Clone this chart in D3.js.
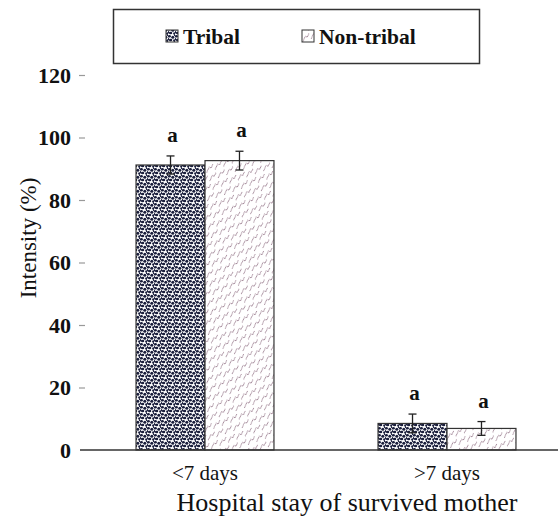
<!DOCTYPE html>
<html>
<head>
<meta charset="utf-8">
<script src="https://cdn.jsdelivr.net/npm/d3@7"></script>
<style>
  body { margin: 0; background: #fff; }
  svg { display: block; }
  svg text { font-family: "Liberation Serif", "Times New Roman", serif; }
</style>
</head>
<body>
<div id="chart"></div>
<script>
// データ
var categories = ["<7 days", ">7 days"];
var groups = ["Tribal", "Non-tribal"];
var tribal_values = [91.2, 8.5];
var nontribal_values = [92.6, 6.9];
var tribal_errors = [2.9, 3.0];
var nontribal_errors = [3.0, 2.2];
var sig_letters = [["a", "a"], ["a", "a"]];
var y_ticks = [0, 20, 40, 60, 80, 100, 120];

var W = 558, H = 522;
var svg = d3.select("#chart").append("svg").attr("width", W).attr("height", H)
  .attr("font-family", "Liberation Serif");

// パターン
var defs = svg.append("defs");
var dots = defs.append("pattern").attr("id", "pat_tribal")
  .attr("patternUnits", "userSpaceOnUse").attr("width", 7).attr("height", 7);
dots.append("rect").attr("width", 7).attr("height", 7).attr("fill", "#fff");
[[1.3,1.3,1.6,1.3],[4.8,2.2,1.5,1.5],[2.6,5.0,1.7,1.3],[6.4,5.6,1.2,1.3],[0.2,4.2,1.0,1.2],[6.8,0.3,0.9,0.9]].forEach(function(e){
  dots.append("ellipse").attr("cx", e[0]).attr("cy", e[1]).attr("rx", e[2]).attr("ry", e[3]).attr("fill", "#1a1e3c");
});

var zig = defs.append("pattern").attr("id", "pat_non")
  .attr("patternUnits", "userSpaceOnUse").attr("width", 9).attr("height", 9)
  .attr("patternTransform", "rotate(-20)");
zig.append("rect").attr("width", 9).attr("height", 9).attr("fill", "#fff");
zig.append("path").attr("d", "M0,8 L4.5,3.5 L6,5 L9,2")
  .attr("fill", "none").attr("stroke", "#a68c9c").attr("stroke-width", 1);

var patFill = ["url(#pat_tribal)", "url(#pat_non)"];

// スケール
var x = d3.scaleBand().domain(categories).range([84, 568]).paddingInner(0.43).paddingOuter(0.215);
var xs = d3.scaleBand().domain(groups).range([0, x.bandwidth()]);
var y = d3.scaleLinear().domain([0, 120]).range([450, 75]);

var rows = categories.map(function(c, i){
  return [
    {cat: c, grp: groups[0], v: tribal_values[i], e: tribal_errors[i], lab: sig_letters[i][0]},
    {cat: c, grp: groups[1], v: nontribal_values[i], e: nontribal_errors[i], lab: sig_letters[i][1]}
  ];
});
var flat = [].concat.apply([], rows);

// y軸(線なし)
var yAxis = svg.append("g").attr("transform", "translate(78,0)")
  .call(d3.axisLeft(y).tickValues(y_ticks).tickSize(0).tickPadding(7));
yAxis.select(".domain").remove();
yAxis.attr("font-family", "Liberation Serif").attr("font-size", null);
yAxis.selectAll("text").attr("font-size", 22).attr("font-weight", "bold").attr("fill", "#111");
yAxis.selectAll(".tick").filter(function(d){return d>0;}).append("line")
  .attr("x1", 1).attr("x2", 7).attr("stroke", "#999").attr("stroke-width", 1.2);

// 棒
svg.selectAll("rect.bar").data(flat).enter().append("rect")
  .attr("class", "bar")
  .attr("x", function(d){return x(d.cat) + xs(d.grp);})
  .attr("y", function(d){return y(d.v);})
  .attr("width", xs.bandwidth())
  .attr("height", function(d){return y(0) - y(d.v);})
  .attr("fill", function(d){return patFill[groups.indexOf(d.grp)];})
  .attr("stroke", "#333").attr("stroke-width", 1.2);

// 誤差棒
var eb = svg.selectAll("g.err").data(flat).enter().append("g").attr("class", "err")
  .attr("transform", function(d){return "translate(" + (x(d.cat) + xs(d.grp) + xs.bandwidth()/2) + ",0)";});
eb.append("line").attr("y1", function(d){return y(d.v + d.e);}).attr("y2", function(d){return y(d.v - d.e);})
  .attr("stroke", "#222").attr("stroke-width", 1.3);
eb.append("line").attr("x1", -4).attr("x2", 4)
  .attr("y1", function(d){return y(d.v + d.e);}).attr("y2", function(d){return y(d.v + d.e);})
  .attr("stroke", "#222").attr("stroke-width", 1.3);
eb.append("line").attr("x1", -4).attr("x2", 4)
  .attr("y1", function(d){return y(d.v - d.e);}).attr("y2", function(d){return y(d.v - d.e);})
  .attr("stroke", "#222").attr("stroke-width", 1.3);
eb.append("text").attr("x", 2).attr("y", function(d){return y(d.v + d.e) - 14;})
  .attr("text-anchor", "middle").attr("font-size", 21).attr("font-weight", "bold").attr("fill", "#111")
  .text(function(d){return d.lab;});

// 基線
svg.append("line").attr("x1", 80).attr("x2", W).attr("y1", y(0)).attr("y2", y(0))
  .attr("stroke", "#333").attr("stroke-width", 1.5);

// x軸ラベル
svg.selectAll("text.cat").data(categories).enter().append("text").attr("class", "cat")
  .attr("x", function(d){return x(d) + x.bandwidth()/2;}).attr("y", 480)
  .attr("text-anchor", "middle").attr("font-size", 21).attr("fill", "#111")
  .text(function(d){return d;});

svg.append("text").attr("x", 347).attr("y", 511).attr("text-anchor", "middle")
  .attr("font-size", 26).attr("fill", "#111").text("Hospital stay of survived mother");

svg.append("text").attr("transform", "translate(36,238) rotate(-90)").attr("text-anchor", "middle")
  .attr("font-size", 23).attr("fill", "#111").text("Intensity (%)");

// 凡例
var lg = svg.append("g");
lg.append("rect").attr("x", 113.5).attr("y", 9.5).attr("width", 366).attr("height", 54)
  .attr("fill", "#fff").attr("stroke", "#333").attr("stroke-width", 1.5);
var lgx = [166, 302];
groups.forEach(function(g, i){
  lg.append("rect").attr("x", lgx[i]).attr("y", 30).attr("width", 12).attr("height", 12)
    .attr("fill", patFill[i]).attr("stroke", "#333").attr("stroke-width", 1);
  lg.append("text").attr("x", lgx[i] + 17).attr("y", 44).attr("font-size", 21.5).attr("font-weight", "bold")
    .attr("fill", "#111").text(g);
});
</script>
</body>
</html>
